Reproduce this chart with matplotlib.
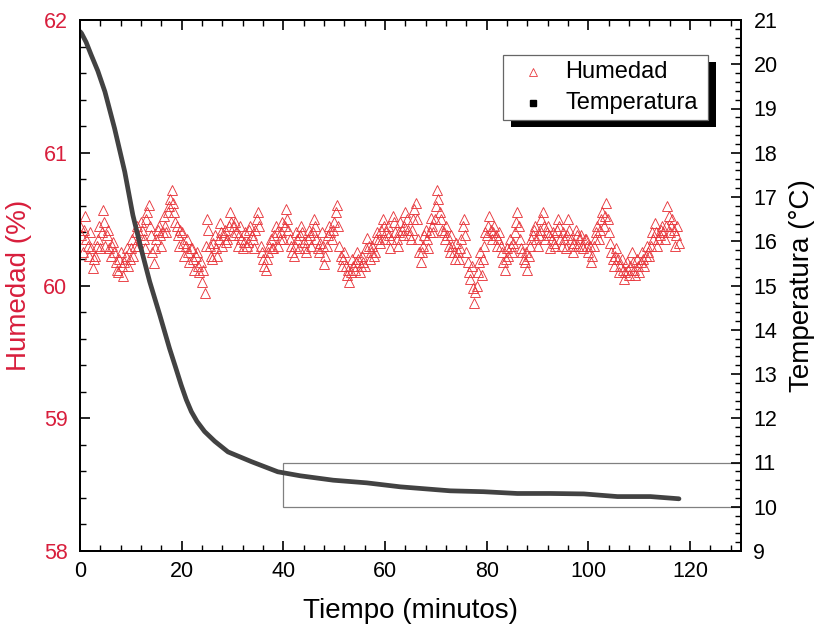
import matplotlib
matplotlib.use("Agg")
import matplotlib.pyplot as plt
from matplotlib.patches import Rectangle
from matplotlib.ticker import MultipleLocator
import numpy as np

plt.rcParams['font.family'] = ['Liberation Sans', 'DejaVu Sans']

# humedad, one reading every 0.25 min starting at t = 0
hum_step = 0.25
humedad = [
    60.45, 60.38, 60.25, 60.42, 60.52, 60.35, 60.30, 60.22, 60.40, 60.28, 60.13, 60.20, 60.22, 60.30, 60.35, 60.45, 60.28, 60.40, 60.57, 60.48,
    60.30, 60.38, 60.42, 60.28, 60.22, 60.30, 60.33, 60.25, 60.18, 60.12, 60.10, 60.20, 60.25, 60.15, 60.07, 60.18, 60.22, 60.28, 60.15, 60.20,
    60.28, 60.35, 60.22, 60.30, 60.40, 60.45, 60.30, 60.38, 60.48, 60.42, 60.35, 60.28, 60.50, 60.55, 60.61, 60.45, 60.38, 60.25, 60.17, 60.28,
    60.35, 60.42, 60.45, 60.38, 60.30, 60.40, 60.52, 60.45, 60.40, 60.55, 60.60, 60.65, 60.72, 60.62, 60.55, 60.48, 60.45, 60.38, 60.30, 60.42,
    60.40, 60.32, 60.22, 60.30, 60.35, 60.25, 60.18, 60.28, 60.28, 60.20, 60.12, 60.22, 60.25, 60.15, 60.10, 60.18, 60.03, 60.12, 59.94, 60.30,
    60.50, 60.42, 60.30, 60.22, 60.20, 60.32, 60.38, 60.28, 60.22, 60.35, 60.47, 60.40, 60.30, 60.38, 60.42, 60.33, 60.35, 60.45, 60.55, 60.48,
    60.38, 60.45, 60.48, 60.40, 60.30, 60.38, 60.45, 60.35, 60.28, 60.33, 60.40, 60.30, 60.33, 60.42, 60.45, 60.38, 60.35, 60.28, 60.42, 60.50,
    60.55, 60.45, 60.30, 60.25, 60.20, 60.15, 60.12, 60.20, 60.25, 60.30, 60.35, 60.28, 60.28, 60.38, 60.45, 60.40, 60.30, 60.35, 60.40, 60.48,
    60.35, 60.45, 60.58, 60.50, 60.42, 60.35, 60.30, 60.25, 60.22, 60.30, 60.40, 60.35, 60.28, 60.38, 60.45, 60.40, 60.33, 60.28, 60.25, 60.35,
    60.42, 60.38, 60.30, 60.40, 60.50, 60.45, 60.35, 60.28, 60.25, 60.32, 60.40, 60.30, 60.16, 60.22, 60.30, 60.38, 60.45, 60.40, 60.35, 60.42,
    60.48, 60.55, 60.61, 60.45, 60.30, 60.22, 60.15, 60.20, 60.25, 60.15, 60.08, 60.12, 60.03, 60.10, 60.20, 60.15, 60.12, 60.18, 60.25, 60.20,
    60.10, 60.15, 60.22, 60.18, 60.15, 60.28, 60.36, 60.30, 60.20, 60.25, 60.30, 60.22, 60.25, 60.35, 60.40, 60.35, 60.32, 60.42, 60.50, 60.45,
    60.35, 60.40, 60.45, 60.38, 60.28, 60.35, 60.52, 60.48, 60.40, 60.35, 60.30, 60.40, 60.48, 60.42, 60.38, 60.45, 60.55, 60.50, 60.42, 60.38,
    60.35, 60.42, 60.50, 60.58, 60.62, 60.50, 60.35, 60.25, 60.18, 60.25, 60.30, 60.38, 60.42, 60.35, 60.28, 60.40, 60.51, 60.45, 60.40, 60.50,
    60.60, 60.72, 60.65, 60.55, 60.50, 60.42, 60.40, 60.35, 60.45, 60.38, 60.30, 60.25, 60.38, 60.30, 60.25, 60.20, 60.32, 60.25, 60.20, 60.28,
    60.35, 60.45, 60.50, 60.38, 60.25, 60.18, 60.10, 60.05, 60.15, 59.98, 59.87, 59.95, 60.00, 60.10, 60.18, 60.25, 60.08, 60.20, 60.30, 60.40,
    60.38, 60.45, 60.52, 60.42, 60.35, 60.40, 60.45, 60.38, 60.30, 60.35, 60.40, 60.30, 60.25, 60.18, 60.12, 60.20, 60.28, 60.22, 60.35, 60.30,
    60.25, 60.32, 60.40, 60.48, 60.55, 60.45, 60.35, 60.28, 60.25, 60.20, 60.18, 60.25, 60.12, 60.22, 60.30, 60.35, 60.38, 60.42, 60.45, 60.35,
    60.30, 60.38, 60.42, 60.50, 60.55, 60.45, 60.35, 60.40, 60.45, 60.38, 60.28, 60.35, 60.40, 60.32, 60.30, 60.42, 60.50, 60.45, 60.35, 60.30,
    60.40, 60.35, 60.28, 60.38, 60.50, 60.42, 60.35, 60.30, 60.25, 60.32, 60.42, 60.38, 60.30, 60.35, 60.38, 60.30, 60.28, 60.35, 60.35, 60.30,
    60.25, 60.30, 60.18, 60.22, 60.30, 60.35, 60.40, 60.45, 60.35, 60.42, 60.50, 60.55, 60.45, 60.52, 60.62, 60.50, 60.40, 60.32, 60.25, 60.20,
    60.15, 60.22, 60.28, 60.20, 60.10, 60.15, 60.20, 60.12, 60.05, 60.10, 60.18, 60.12, 60.08, 60.15, 60.25, 60.18, 60.12, 60.08, 60.20, 60.15,
    60.10, 60.18, 60.25, 60.20, 60.15, 60.22, 60.30, 60.25, 60.22, 60.30, 60.40, 60.35, 60.47, 60.40, 60.30, 60.35, 60.38, 60.42, 60.45, 60.40,
    60.35, 60.45, 60.60, 60.52, 60.40, 60.45, 60.50, 60.42, 60.30, 60.38, 60.45, 60.32,
]
t_hum = np.arange(len(humedad)) * hum_step

# temperatura
t_temp = [0.0, 0.3, 1.2, 2.2, 3.5, 4.9, 6.8, 8.8, 10.4, 12.0, 13.7, 15.7, 17.6,
          18.8, 19.9, 20.9, 21.9, 23.0, 24.5, 26.5, 29.1, 33.7, 38.9, 43.3,
          49.8, 56.4, 63.0, 72.8, 79.4, 86.0, 92.5, 99.1, 105.7, 112.2, 117.8]
temperatura = [20.74, 20.70, 20.50, 20.21, 19.85, 19.38, 18.55, 17.57, 16.59,
               15.84, 15.09, 14.33, 13.58, 13.15, 12.75, 12.42, 12.15, 11.93,
               11.70, 11.48, 11.24, 11.02, 10.79, 10.70, 10.60, 10.54, 10.45,
               10.36, 10.34, 10.30, 10.30, 10.29, 10.23, 10.23, 10.18]

red = '#d81e3c'

fig = plt.figure(figsize=(8.16, 6.32), dpi=100)
ax = fig.add_axes([80/816, 1-551/632, 661/816, 531/632])
ax2 = ax.twinx()

ax.plot(t_hum, humedad, linestyle='none', marker='^', ms=7.5, mfc='none',
        mec='#e8383d', mew=0.65)
ax2.plot(t_temp, temperatura, color='#424242', lw=3.4, solid_capstyle='round',
         solid_joinstyle='round')

# zoom box
ax2.add_patch(Rectangle((40, 10), 90, 1, fill=False, ec='#808080', lw=0.9))

ax.set_xlim(0, 130)
ax.set_ylim(58, 62)
ax2.set_ylim(9, 21)

ax.xaxis.set_major_locator(MultipleLocator(20))
ax.xaxis.set_minor_locator(MultipleLocator(4))
ax.yaxis.set_major_locator(MultipleLocator(1))
ax.yaxis.set_minor_locator(MultipleLocator(0.2))
ax2.yaxis.set_major_locator(MultipleLocator(1))
ax2.yaxis.set_minor_locator(MultipleLocator(0.2))

ax.tick_params(axis='x', which='both', direction='in', top=True, bottom=True,
               labelsize=15.5, pad=7)
ax.tick_params(axis='y', which='both', direction='in', right=False,
               labelsize=15.5, labelcolor=red, pad=9)
ax2.tick_params(axis='y', which='both', direction='in', labelsize=15.5, pad=9)
for a in (ax, ax2):
    a.tick_params(which='major', length=7, width=1.2)
    a.tick_params(which='minor', length=4, width=1.0)
    for s in a.spines.values():
        s.set_linewidth(1.3)

ax.set_xlabel('Tiempo (minutos)', fontsize=20, labelpad=12)
ax.set_ylabel('Humedad (%)', fontsize=20, color=red)
ax.yaxis.set_label_coords(-0.072, 0.5)
ax2.set_ylabel('Temperatura (°C)', fontsize=20, labelpad=8)

# legend with solid black shadow
lx0, lx1, ly0, ly1 = 0.640, 0.950, 0.812, 0.934
ax2.add_patch(Rectangle((lx0 + 0.012, ly0 - 0.013), lx1 - lx0, ly1 - ly0,
                        transform=ax2.transAxes, fc='black', ec='none', zorder=5))
ax2.add_patch(Rectangle((lx0, ly0), lx1 - lx0, ly1 - ly0, transform=ax2.transAxes,
                        fc='white', ec='#666666', lw=0.9, zorder=6))
ax2.plot([0.685], [0.902], transform=ax2.transAxes, marker='^', ms=6, mfc='none',
         mec='#e8383d', mew=0.6, zorder=7, clip_on=False)
ax2.plot([0.685], [0.844], transform=ax2.transAxes, marker='s', ms=4.5,
         color='black', zorder=7, clip_on=False)
ax2.text(0.734, 0.902, 'Humedad', transform=ax2.transAxes, fontsize=17,
         va='center', ha='left', zorder=7)
ax2.text(0.734, 0.844, 'Temperatura', transform=ax2.transAxes, fontsize=17,
         va='center', ha='left', zorder=7)

fig.savefig('out.png', dpi=100)
